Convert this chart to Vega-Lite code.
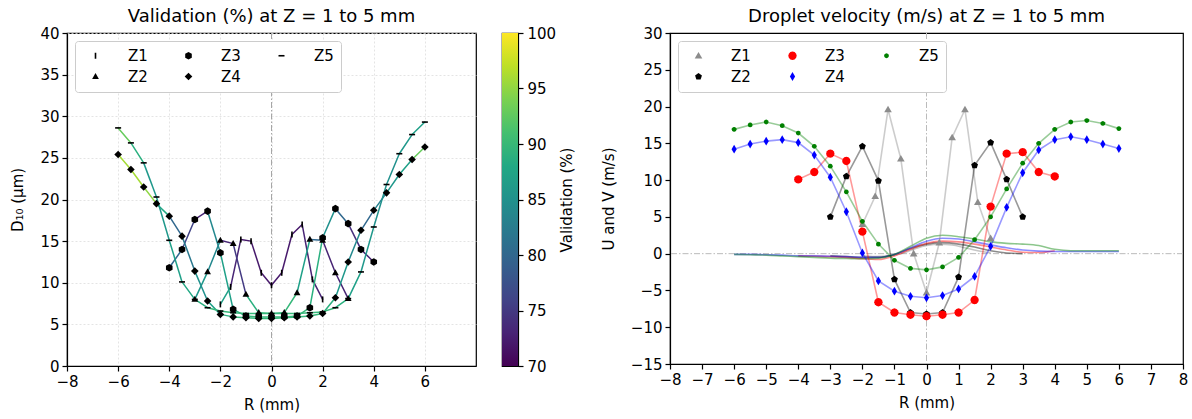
{
"$schema": "https://vega.github.io/schema/vega-lite/v6.json",
"padding": {"left": 10, "top": 7, "right": 5, "bottom": 0},
"config": {
  "font": "DejaVu Sans",
  "view": {"stroke": "black", "strokeWidth": 1.2},
  "axis": {"labelFontSize": 15, "titleFontSize": 15, "titleFontWeight": "normal", "labelColor": "black", "titleColor": "black", "domainColor": "black", "tickColor": "black", "tickSize": 5, "tickWidth": 1.2, "domainWidth": 1.2, "labelPadding": 3, "titlePadding": 14, "grid": false, "labelFlush": false, "labelOverlap": false},
  "axisX": {"titlePadding": 8},
  "title": {"fontSize": 18, "fontWeight": "normal", "color": "black", "anchor": "middle"},
  "concat": {"spacing": 24}
},
"resolve": {"scale": {"shape": "independent", "color": "independent", "stroke": "independent", "x": "independent", "y": "independent"}, "legend": {"shape": "independent", "color": "independent"}},
"datasets": {
  "left": [
    {"z":"Z1","r":-2,"d":7.4,"val":87},{"z":"Z1","r":-1.6,"d":9.5,"val":73},{"z":"Z1","r":-1.2,"d":15.2,"val":72},{"z":"Z1","r":-0.8,"d":15.0,"val":72},{"z":"Z1","r":-0.4,"d":11.2,"val":72},{"z":"Z1","r":0,"d":9.7,"val":72},{"z":"Z1","r":0.4,"d":11.2,"val":72},{"z":"Z1","r":0.8,"d":15.8,"val":72},{"z":"Z1","r":1.2,"d":17.0,"val":73},{"z":"Z1","r":1.6,"d":10.4,"val":73},{"z":"Z1","r":2,"d":8.0,"val":73},
    {"z":"Z2","r":-3,"d":8.0,"val":86},{"z":"Z2","r":-2.5,"d":11.3,"val":84},{"z":"Z2","r":-2,"d":15.1,"val":73},{"z":"Z2","r":-1.5,"d":14.7,"val":75},{"z":"Z2","r":-1,"d":8.6,"val":89},{"z":"Z2","r":-0.5,"d":6.4,"val":90},{"z":"Z2","r":0,"d":6.3,"val":90},{"z":"Z2","r":0.5,"d":6.4,"val":90},{"z":"Z2","r":1,"d":8.8,"val":87},{"z":"Z2","r":1.5,"d":15.2,"val":80},{"z":"Z2","r":2,"d":15.1,"val":73},{"z":"Z2","r":2.5,"d":11.2,"val":73},{"z":"Z2","r":3,"d":8.1,"val":73},
    {"z":"Z3","r":-4,"d":11.8,"val":80},{"z":"Z3","r":-3.5,"d":14.0,"val":76},{"z":"Z3","r":-3,"d":17.6,"val":73},{"z":"Z3","r":-2.5,"d":18.6,"val":84},{"z":"Z3","r":-2,"d":13.6,"val":87},{"z":"Z3","r":-1.5,"d":6.8,"val":89},{"z":"Z3","r":-1,"d":6.0,"val":90},{"z":"Z3","r":-0.5,"d":5.9,"val":90},{"z":"Z3","r":0,"d":5.9,"val":90},{"z":"Z3","r":0.5,"d":5.9,"val":90},{"z":"Z3","r":1,"d":6.0,"val":90},{"z":"Z3","r":1.5,"d":7.0,"val":89},{"z":"Z3","r":2,"d":15.4,"val":85},{"z":"Z3","r":2.5,"d":18.9,"val":80},{"z":"Z3","r":3,"d":17.1,"val":74},{"z":"Z3","r":3.5,"d":14.0,"val":73},{"z":"Z3","r":4,"d":12.5,"val":73},
    {"z":"Z4","r":-6,"d":25.4,"val":96},{"z":"Z4","r":-5.5,"d":23.6,"val":96},{"z":"Z4","r":-5,"d":21.5,"val":95},{"z":"Z4","r":-4.5,"d":19.5,"val":88},{"z":"Z4","r":-4,"d":18.0,"val":80},{"z":"Z4","r":-3.5,"d":15.6,"val":82},{"z":"Z4","r":-3,"d":11.4,"val":85},{"z":"Z4","r":-2.5,"d":7.8,"val":87},{"z":"Z4","r":-2,"d":6.2,"val":89},{"z":"Z4","r":-1.5,"d":5.9,"val":90},{"z":"Z4","r":-1,"d":5.8,"val":90},{"z":"Z4","r":-0.5,"d":5.7,"val":90},{"z":"Z4","r":0,"d":5.7,"val":90},{"z":"Z4","r":0.5,"d":5.8,"val":90},{"z":"Z4","r":1,"d":5.9,"val":90},{"z":"Z4","r":1.5,"d":6.0,"val":90},{"z":"Z4","r":2,"d":6.3,"val":89},{"z":"Z4","r":2.5,"d":8.2,"val":86},{"z":"Z4","r":3,"d":12.5,"val":84},{"z":"Z4","r":3.5,"d":16.3,"val":80},{"z":"Z4","r":4,"d":18.7,"val":83},{"z":"Z4","r":4.5,"d":20.8,"val":86},{"z":"Z4","r":5,"d":23.0,"val":87},{"z":"Z4","r":5.5,"d":24.8,"val":93},{"z":"Z4","r":6,"d":26.3,"val":95},
    {"z":"Z5","r":-6,"d":28.6,"val":93},{"z":"Z5","r":-5.5,"d":26.8,"val":89},{"z":"Z5","r":-5,"d":24.4,"val":86},{"z":"Z5","r":-4.5,"d":20.3,"val":86},{"z":"Z5","r":-4,"d":15.1,"val":87},{"z":"Z5","r":-3.5,"d":10.1,"val":88},{"z":"Z5","r":-3,"d":8.0,"val":89},{"z":"Z5","r":-2.5,"d":7.0,"val":90},{"z":"Z5","r":-2,"d":6.6,"val":90},{"z":"Z5","r":-1.5,"d":6.4,"val":90},{"z":"Z5","r":-1,"d":6.3,"val":90},{"z":"Z5","r":-0.5,"d":6.3,"val":90},{"z":"Z5","r":0,"d":6.3,"val":90},{"z":"Z5","r":0.5,"d":6.3,"val":90},{"z":"Z5","r":1,"d":6.3,"val":90},{"z":"Z5","r":1.5,"d":6.4,"val":90},{"z":"Z5","r":2,"d":6.5,"val":90},{"z":"Z5","r":2.5,"d":7.0,"val":89},{"z":"Z5","r":3,"d":8.1,"val":87},{"z":"Z5","r":3.5,"d":11.3,"val":86},{"z":"Z5","r":4,"d":16.7,"val":85},{"z":"Z5","r":4.5,"d":21.8,"val":85},{"z":"Z5","r":5,"d":25.5,"val":86},{"z":"Z5","r":5.5,"d":27.8,"val":87},{"z":"Z5","r":6,"d":29.3,"val":87}
  ],
  "right": [
    {"z":"Z1","r":-2,"u":4.0,"v":-0.3},{"z":"Z1","r":-1.6,"u":7.8,"v":-0.4},{"z":"Z1","r":-1.2,"u":19.6,"v":-0.3},{"z":"Z1","r":-0.8,"u":12.9,"v":0.0},{"z":"Z1","r":-0.4,"u":0.0,"v":0.6},{"z":"Z1","r":0,"u":-5.3,"v":1.1},{"z":"Z1","r":0.4,"u":1.5,"v":1.3},{"z":"Z1","r":0.8,"u":15.8,"v":1.2},{"z":"Z1","r":1.2,"u":19.6,"v":0.8},{"z":"Z1","r":1.6,"u":7.0,"v":0.4},{"z":"Z1","r":2,"u":2.1,"v":0.1},
    {"z":"Z2","r":-3,"u":5.0,"v":-0.3},{"z":"Z2","r":-2.5,"u":10.5,"v":-0.4},{"z":"Z2","r":-2,"u":14.6,"v":-0.5},{"z":"Z2","r":-1.5,"u":9.9,"v":-0.5},{"z":"Z2","r":-1,"u":-3.5,"v":-0.1},{"z":"Z2","r":-0.5,"u":-8.0,"v":0.7},{"z":"Z2","r":0,"u":-8.2,"v":1.3},{"z":"Z2","r":0.5,"u":-8.0,"v":1.5},{"z":"Z2","r":1,"u":-3.2,"v":1.3},{"z":"Z2","r":1.5,"u":12.0,"v":0.9},{"z":"Z2","r":2,"u":15.1,"v":0.4},{"z":"Z2","r":2.5,"u":10.1,"v":0.1},{"z":"Z2","r":3,"u":5.0,"v":0.0},
    {"z":"Z3","r":-4,"u":10.1,"v":-0.3},{"z":"Z3","r":-3.5,"u":11.1,"v":-0.35},{"z":"Z3","r":-3,"u":13.6,"v":-0.4},{"z":"Z3","r":-2.5,"u":12.6,"v":-0.5},{"z":"Z3","r":-2,"u":3.0,"v":-0.7},{"z":"Z3","r":-1.5,"u":-6.6,"v":-0.8},{"z":"Z3","r":-1,"u":-8.0,"v":-0.3},{"z":"Z3","r":-0.5,"u":-8.3,"v":0.6},{"z":"Z3","r":0,"u":-8.5,"v":1.4},{"z":"Z3","r":0.5,"u":-8.3,"v":1.7},{"z":"Z3","r":1,"u":-8.0,"v":1.6},{"z":"Z3","r":1.5,"u":-6.3,"v":1.3},{"z":"Z3","r":2,"u":6.4,"v":0.9},{"z":"Z3","r":2.5,"u":13.6,"v":0.5},{"z":"Z3","r":3,"u":13.8,"v":0.2},{"z":"Z3","r":3.5,"u":11.1,"v":0.15},{"z":"Z3","r":4,"u":10.5,"v":0.4},
    {"z":"Z4","r":-6,"u":14.2,"v":-0.1},{"z":"Z4","r":-5.5,"u":14.9,"v":-0.1},{"z":"Z4","r":-5,"u":15.3,"v":-0.15},{"z":"Z4","r":-4.5,"u":15.5,"v":-0.2},{"z":"Z4","r":-4,"u":15.1,"v":-0.3},{"z":"Z4","r":-3.5,"u":13.4,"v":-0.3},{"z":"Z4","r":-3,"u":10.4,"v":-0.35},{"z":"Z4","r":-2.5,"u":5.7,"v":-0.4},{"z":"Z4","r":-2,"u":0.1,"v":-0.5},{"z":"Z4","r":-1.5,"u":-3.7,"v":-0.5},{"z":"Z4","r":-1,"u":-5.1,"v":-0.1},{"z":"Z4","r":-0.5,"u":-5.8,"v":0.8},{"z":"Z4","r":0,"u":-6.0,"v":1.7},{"z":"Z4","r":0.5,"u":-5.7,"v":2.1},{"z":"Z4","r":1,"u":-4.8,"v":2.0},{"z":"Z4","r":1.5,"u":-3.1,"v":1.6},{"z":"Z4","r":2,"u":1.0,"v":1.2},{"z":"Z4","r":2.5,"u":6.3,"v":0.8},{"z":"Z4","r":3,"u":11.0,"v":0.5},{"z":"Z4","r":3.5,"u":14.1,"v":0.35},{"z":"Z4","r":4,"u":15.5,"v":0.3},{"z":"Z4","r":4.5,"u":15.9,"v":0.3},{"z":"Z4","r":5,"u":15.5,"v":0.3},{"z":"Z4","r":5.5,"u":14.9,"v":0.3},{"z":"Z4","r":6,"u":14.3,"v":0.3},
    {"z":"Z5","r":-6,"u":16.9,"v":-0.1},{"z":"Z5","r":-5.5,"u":17.5,"v":-0.15},{"z":"Z5","r":-5,"u":17.9,"v":-0.2},{"z":"Z5","r":-4.5,"u":17.4,"v":-0.3},{"z":"Z5","r":-4,"u":16.4,"v":-0.4},{"z":"Z5","r":-3.5,"u":14.6,"v":-0.5},{"z":"Z5","r":-3,"u":11.9,"v":-0.6},{"z":"Z5","r":-2.5,"u":8.4,"v":-0.65},{"z":"Z5","r":-2,"u":4.4,"v":-0.7},{"z":"Z5","r":-1.5,"u":1.3,"v":-0.6},{"z":"Z5","r":-1,"u":-0.9,"v":-0.1},{"z":"Z5","r":-0.5,"u":-2.0,"v":1.0},{"z":"Z5","r":0,"u":-2.2,"v":2.1},{"z":"Z5","r":0.5,"u":-1.8,"v":2.5},{"z":"Z5","r":1,"u":-0.5,"v":2.3},{"z":"Z5","r":1.5,"u":1.9,"v":2.0},{"z":"Z5","r":2,"u":5.0,"v":1.6},{"z":"Z5","r":2.5,"u":8.8,"v":1.4},{"z":"Z5","r":3,"u":12.3,"v":1.3},{"z":"Z5","r":3.5,"u":15.0,"v":1.1},{"z":"Z5","r":4,"u":16.9,"v":0.6},{"z":"Z5","r":4.5,"u":17.9,"v":0.4},{"z":"Z5","r":5,"u":18.1,"v":0.4},{"z":"Z5","r":5.5,"u":17.7,"v":0.4},{"z":"Z5","r":6,"u":17.0,"v":0.4}
  ]
},
"hconcat": [
  {
    "width": 409, "height": 333,
    "title": {"text": "Validation (%) at Z = 1 to 5 mm", "offset": 0},
    "layer": [
      {
        "data": {"values": [{"r": 0}]},
        "mark": {"type": "rule", "color": "#a6a6a6", "strokeDash": [6, 2, 1.5, 2], "strokeWidth": 1},
        "encoding": {"x": {"field": "r", "type": "quantitative", "scale": {"domain": [-8, 8], "nice": false}, "axis": {"values": [-8, -6, -4, -2, 0, 2, 4, 6], "title": "R (mm)", "grid": true, "gridColor": "#dddddd", "gridDash": [2, 2], "gridWidth": 0.8}}}
      },
      {
        "data": {"name": "left"},
        "transform": [
          {"window": [{"op": "lead", "field": "r", "as": "r2"}, {"op": "lead", "field": "d", "as": "d2"}], "groupby": ["z"], "sort": [{"field": "r", "order": "ascending"}]},
          {"filter": "datum.r2 != null"}
        ],
        "mark": {"type": "rule", "strokeWidth": 1.5, "strokeCap": "round"},
        "encoding": {
          "x": {"field": "r", "type": "quantitative", "scale": {"domain": [-8, 8], "nice": false}, "axis": {"values": [-8, -6, -4, -2, 0, 2, 4, 6], "title": "R (mm)", "grid": true, "gridColor": "#dddddd", "gridDash": [2, 2], "gridWidth": 0.8}},
          "x2": {"field": "r2"},
          "y": {"field": "d", "type": "quantitative", "scale": {"domain": [0, 40], "nice": false}, "axis": {"values": [0, 5, 10, 15, 20, 25, 30, 35, 40], "title": "D₁₀ (μm)", "grid": true, "gridColor": "#dddddd", "gridDash": [2, 2], "gridWidth": 0.8}},
          "y2": {"field": "d2"},
          "color": {"field": "val", "type": "quantitative", "scale": {"scheme": "viridis", "domain": [70, 100]}, "legend": null}
        }
      },
      {
        "data": {"name": "left"},
        "mark": {"type": "point", "filled": true, "color": "black", "opacity": 1, "size": 64, "strokeWidth": 0},
        "encoding": {
          "x": {"field": "r", "type": "quantitative", "scale": {"domain": [-8, 8], "nice": false}, "axis": {"values": [-8, -6, -4, -2, 0, 2, 4, 6], "title": "R (mm)", "grid": true, "gridColor": "#dddddd", "gridDash": [2, 2], "gridWidth": 0.8}},
          "y": {"field": "d", "type": "quantitative", "scale": {"domain": [0, 40], "nice": false}, "axis": {"values": [0, 5, 10, 15, 20, 25, 30, 35, 40], "title": "D₁₀ (μm)", "grid": true, "gridColor": "#dddddd", "gridDash": [2, 2], "gridWidth": 0.8}},
          "shape": {"field": "z", "type": "nominal",
            "scale": {"domain": ["Z1", "Z2", "Z3", "Z4", "Z5"],
              "range": ["M-0.2,-0.75H0.2V0.75H-0.2Z", "M0,-0.9L0.85,0.6L-0.85,0.6Z", "M0,-0.95L0.823,-0.475L0.823,0.475L0,0.95L-0.823,0.475L-0.823,-0.475Z", "M0,-0.95L0.95,0L0,0.95L-0.95,0Z", "M-0.75,-0.2H0.75V0.2H-0.75Z"]},
            "legend": {"title": null, "orient": "top-left", "columns": 3, "offset": 8, "padding": 7, "symbolOffset": 6, "labelOffset": 25, "columnPadding": 27, "rowPadding": 5, "symbolSize": 64, "symbolFillColor": "black", "symbolStrokeWidth": 0, "labelFontSize": 15, "labelColor": "black", "strokeColor": "#cccccc", "fillColor": "white", "cornerRadius": 3}
          }
        }
      }
    ]
  },
  {
    "width": 16, "height": 333,
    "title": {"text": ".", "color": "white", "offset": 0},
    "data": {"values": [{"lo": 70, "hi": 100}]},
    "mark": {"type": "rect", "fill": {"gradient": "linear", "x1": 0, "y1": 1, "x2": 0, "y2": 0, "stops": [
      {"offset": 0, "color": "#440154"}, {"offset": 0.1, "color": "#482475"}, {"offset": 0.2, "color": "#414487"}, {"offset": 0.3, "color": "#355f8d"}, {"offset": 0.4, "color": "#2a788e"}, {"offset": 0.5, "color": "#21918c"}, {"offset": 0.6, "color": "#22a884"}, {"offset": 0.7, "color": "#44bf70"}, {"offset": 0.8, "color": "#7ad151"}, {"offset": 0.9, "color": "#bddf26"}, {"offset": 1, "color": "#fde725"}]}},
    "encoding": {
      "y": {"field": "lo", "type": "quantitative", "scale": {"domain": [70, 100], "nice": false}, "axis": {"orient": "right", "values": [70, 75, 80, 85, 90, 95, 100], "title": "Validation (%)", "labelPadding": 4, "titlePadding": 4, "titleAngle": 270, "titleBaseline": "top"}},
      "y2": {"field": "hi"}
    }
  },
  {
    "width": 513, "height": 331,
    "title": {"text": "Droplet velocity (m/s) at Z = 1 to 5 mm", "offset": 0},
    "layer": [
      {
        "data": {"values": [{"r": 0}]},
        "mark": {"type": "rule", "color": "#bbbbbb", "strokeDash": [6, 2, 1.5, 2], "strokeWidth": 1},
        "encoding": {"x": {"field": "r", "type": "quantitative", "scale": {"domain": [-8, 8], "nice": false}, "axis": {"values": [-8, -7, -6, -5, -4, -3, -2, -1, 0, 1, 2, 3, 4, 5, 6, 7, 8], "title": "R (mm)"}}}
      },
      {
        "data": {"values": [{"u": 0}]},
        "mark": {"type": "rule", "color": "#bbbbbb", "strokeDash": [6, 2, 1.5, 2], "strokeWidth": 1},
        "encoding": {"y": {"field": "u", "type": "quantitative", "scale": {"domain": [-15, 30], "nice": false}, "axis": {"values": [-15, -10, -5, 0, 5, 10, 15, 20, 25, 30], "title": "U and V (m/s)", "titlePadding": 14}}}
      },
      {
        "data": {"name": "right"},
        "mark": {"type": "line", "strokeWidth": 1.6, "opacity": 0.45, "interpolate": "monotone"},
        "encoding": {
          "x": {"field": "r", "type": "quantitative", "scale": {"domain": [-8, 8], "nice": false}, "axis": {"values": [-8, -7, -6, -5, -4, -3, -2, -1, 0, 1, 2, 3, 4, 5, 6, 7, 8], "title": "R (mm)"}},
          "y": {"field": "v", "type": "quantitative", "scale": {"domain": [-15, 30], "nice": false}, "axis": {"values": [-15, -10, -5, 0, 5, 10, 15, 20, 25, 30], "title": "U and V (m/s)", "titlePadding": 14}},
          "stroke": {"field": "z", "type": "nominal", "scale": {"range": ["#808080", "#000000", "#ff0000", "#0000ff", "#008000"]}, "legend": null}
        }
      },
      {
        "data": {"name": "right"},
        "mark": {"type": "line", "strokeWidth": 1.6, "opacity": 0.4},
        "encoding": {
          "x": {"field": "r", "type": "quantitative", "scale": {"domain": [-8, 8], "nice": false}, "axis": {"values": [-8, -7, -6, -5, -4, -3, -2, -1, 0, 1, 2, 3, 4, 5, 6, 7, 8], "title": "R (mm)"}},
          "y": {"field": "u", "type": "quantitative", "scale": {"domain": [-15, 30], "nice": false}, "axis": {"values": [-15, -10, -5, 0, 5, 10, 15, 20, 25, 30], "title": "U and V (m/s)", "titlePadding": 14}},
          "stroke": {"field": "z", "type": "nominal", "legend": null}
        }
      },
      {
        "data": {"name": "right"},
        "mark": {"type": "point", "filled": true, "opacity": 1, "size": 64, "strokeWidth": 0},
        "encoding": {
          "x": {"field": "r", "type": "quantitative", "scale": {"domain": [-8, 8], "nice": false}, "axis": {"values": [-8, -7, -6, -5, -4, -3, -2, -1, 0, 1, 2, 3, 4, 5, 6, 7, 8], "title": "R (mm)"}},
          "y": {"field": "u", "type": "quantitative", "scale": {"domain": [-15, 30], "nice": false}, "axis": {"values": [-15, -10, -5, 0, 5, 10, 15, 20, 25, 30], "title": "U and V (m/s)", "titlePadding": 14}},
          "color": {"field": "z", "type": "nominal", "scale": {"range": ["#8c8c8c", "#000000", "#ff0000", "#0000ff", "#008000"]},
            "legend": {"title": null, "orient": "top-left", "columns": 3, "offset": 8, "padding": 7, "symbolOffset": 6, "labelOffset": 25, "columnPadding": 28, "rowPadding": 5, "symbolSize": 64, "symbolStrokeWidth": 0, "labelFontSize": 15, "labelColor": "black", "strokeColor": "#cccccc", "fillColor": "white", "cornerRadius": 3}},
          "shape": {"field": "z", "type": "nominal", "scale": {
            "range": ["M0,-0.95L0.95,0.7L-0.95,0.7Z", "M0,-0.9L0.856,-0.278L0.529,0.728L-0.529,0.728L-0.856,-0.278Z", "M1.05,0L0.909,0.525L0.525,0.909L0,1.05L-0.525,0.909L-0.909,0.525L-1.05,0L-0.909,-0.525L-0.525,-0.909L0,-1.05L0.525,-0.909L0.909,-0.525Z", "M0,-1.1L0.65,0L0,1.1L-0.65,0Z", "M0.6,0L0.52,0.3L0.3,0.52L0,0.6L-0.3,0.52L-0.52,0.3L-0.6,0L-0.52,-0.3L-0.3,-0.52L0,-0.6L0.3,-0.52L0.52,-0.3Z"]},
            "legend": {"title": null, "orient": "top-left", "columns": 3, "offset": 8, "padding": 7, "symbolOffset": 6, "labelOffset": 25, "columnPadding": 28, "rowPadding": 5, "symbolSize": 64, "symbolStrokeWidth": 0, "labelFontSize": 15, "labelColor": "black", "strokeColor": "#cccccc", "fillColor": "white", "cornerRadius": 3}}
        }
      }
    ]
  }
]
}
